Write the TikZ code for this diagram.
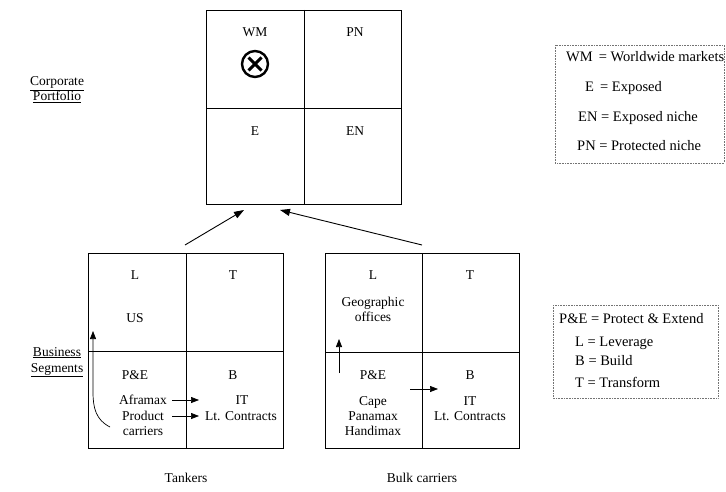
\documentclass[tikz,border=0pt]{standalone}
\usepackage{fontspec}
\setmainfont{Liberation Serif}
\usetikzlibrary{arrows.meta,calc}
\begin{document}
\begin{tikzpicture}[x=1pt,y=-1pt,
  gridline/.style={line width=0.9pt},
  txt/.style={font=\fontsize{13.5}{15}\selectfont, inner sep=0pt, anchor=base},
  legtxt/.style={font=\fontsize{14.5}{16}\selectfont, inner sep=0pt, anchor=base west},
  legbox/.style={densely dotted, draw=black!55, line width=0.6pt},
  arr/.style={line width=0.7pt, -{Triangle[length=8pt,width=6pt]}},
  bigarr/.style={line width=0.9pt, -{Triangle[length=10pt,width=7pt]}}]
\useasboundingbox (0,0) rectangle (726,492);

% ---- corporate portfolio matrix ----
\draw[gridline] (206,10) rectangle (401,204);
\draw[gridline] (304,10) -- (304,204);
\draw[gridline] (206,108) -- (401,108);
\node[txt] (wm) at (255,37) {WM};
\node[txt] (pn) at (355,37) {PN};
\node[txt] (e)  at (255,136) {E};
\node[txt] (en) at (355,136) {EN};
% position marker
\coordinate (mk) at (255,64);
\draw[line width=2.4pt] (mk) circle (13);
\draw[line width=2.9pt] ($(mk)+(-6.5,-6.5)$) -- ($(mk)+(6.5,6.5)$);
\draw[line width=2.9pt] ($(mk)+(-6.5,6.5)$) -- ($(mk)+(6.5,-6.5)$);

\node[txt] (cp1) at (57,86) {\underline{Corporate}};
\node[txt] (cp2) at (57,101) {\underline{Portfolio}};

% ---- legend: portfolio ----
\draw[legbox] (555,45) rectangle (724,163);
\node[legtxt] (lg1) at (566,62) {WM\, = Worldwide markets};
\node[legtxt] (lg2) at (585,92) {E\, = Exposed};
\node[legtxt] (lg3) at (578,122) {EN = Exposed niche};
\node[legtxt] (lg4) at (577,151) {PN = Protected niche};

% ---- tankers matrix ----
\draw[gridline] (88,253) rectangle (283,448);
\draw[gridline] (186,253) -- (186,448);
\draw[gridline] (88,351) -- (283,351);
\node[txt] (tl)  at (135,279) {L};
\node[txt] (tt)  at (233,279) {T};
\node[txt] (us)  at (135,322) {US};
\node[txt] (tpe) at (135,379) {P\&E};
\node[txt] (tb)  at (233,379) {B};
\node[txt] (afr) at (143,404) {Aframax};
\node[txt] (prd) at (143,420) {Product};
\node[txt] (car) at (143,435) {carriers};
\node[txt] (tit) at (242,404) {IT};
\node[txt] (tlc) at (241,420) {Lt. Contracts};
\coordinate (a1s) at (172,400);
\coordinate (a1e) at (199,400);
\coordinate (a2s) at (172,416);
\coordinate (a2e) at (199,416);
\draw[arr] (a1s) -- (a1e);
\draw[arr] (a2s) -- (a2e);
\coordinate (cvs) at (110,427);
\coordinate (cve) at (93,331);
\draw[arr] (cvs) .. controls (96,420) and (93,408) .. (93,392) -- (cve);

% ---- bulk carriers matrix ----
\draw[gridline] (325,253) rectangle (519,448);
\draw[gridline] (422,253) -- (422,448);
\draw[gridline] (325,352) -- (519,352);
\node[txt] (bl)  at (373,279) {L};
\node[txt] (bt)  at (470,279) {T};
\node[txt] (geo) at (373,306) {Geographic};
\node[txt] (off) at (373,321) {offices};
\node[txt] (bpe) at (373,379) {P\&E};
\node[txt] (bb)  at (470,379) {B};
\node[txt] (cap) at (373,405) {Cape};
\node[txt] (pan) at (373,420) {Panamax};
\node[txt] (hnd) at (373,435) {Handimax};
\node[txt] (bit) at (470,405) {IT};
\node[txt] (blc) at (470,420) {Lt. Contracts};
\coordinate (b1s) at (339,373);
\coordinate (b1e) at (339,339);
\coordinate (b2s) at (410,389);
\coordinate (b2e) at (438,389);
\draw[arr] (b1s) -- (b1e);
\draw[arr] (b2s) -- (b2e);

\node[txt] (bs1) at (57,356) {\underline{Business}};
\node[txt] (bs2) at (57,372) {\underline{Segments}};
\node[txt] (tk) at (186,482) {Tankers};
\node[txt] (bk) at (422,482) {Bulk carriers};

% ---- roll-up arrows ----
\coordinate (ut) at (185,245);
\coordinate (uth) at (244,210);
\coordinate (ub) at (422,245);
\coordinate (ubh) at (280,210);
\draw[bigarr] (ut) -- (uth);
\draw[bigarr] (ub) -- (ubh);

% ---- legend: segments ----
\draw[legbox] (553,305) rectangle (718,398);
\node[legtxt] (sg1) at (559,323) {P\&E = Protect \& Extend};
\node[legtxt] (sg2) at (575,346) {L = Leverage};
\node[legtxt] (sg3) at (575,365) {B = Build};
\node[legtxt] (sg4) at (575,387) {T = Transform};
\end{tikzpicture}
\end{document}
